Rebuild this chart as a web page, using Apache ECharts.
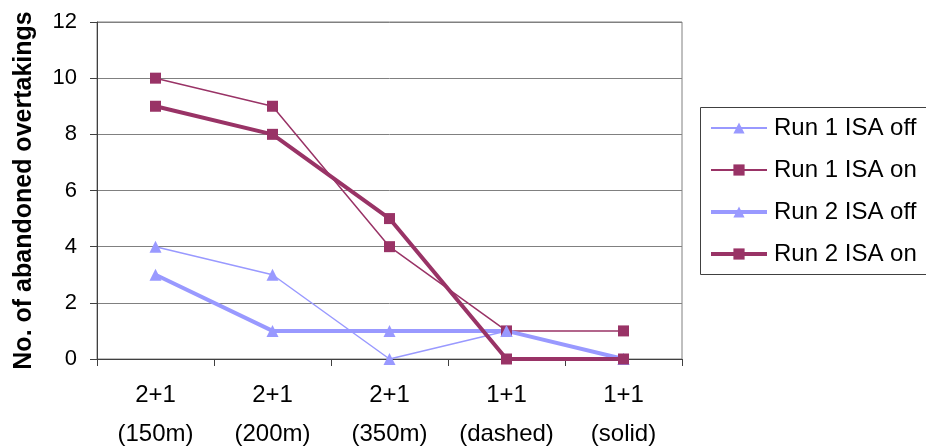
<!DOCTYPE html>
<html>
<head>
<meta charset="utf-8">
<script src="https://cdn.jsdelivr.net/npm/echarts@6/dist/echarts.min.js"></script>
<style>
  html, body { margin: 0; padding: 0; background: #fff; }
  #chart { width: 926px; height: 448px; }
</style>
</head>
<body>
<div id="chart"></div>
<script>
// Road layout categories
const categories = ['2+1\n(150m)', '2+1\n(200m)', '2+1\n(350m)', '1+1\n(dashed)', '1+1\n(solid)'];

// Abandoned overtakings per run and ISA state
const run1IsaOff = [4, 3, 0, 1, 0];
const run1IsaOn = [10, 9, 4, 1, 1];
const run2IsaOff = [3, 1, 1, 1, 0];
const run2IsaOn = [9, 8, 5, 0, 0];

const yTicks = { min: 0, max: 12, step: 2 };

const BLUE = '#9999FF';
const PLUM = '#993366';
const FONT = 'Liberation Sans, Arial, sans-serif';
const THIN = 1.5;
const THICK = 4;

function lineSeries(name, data, color, width, symbol, size) {
  return {
    name: name,
    type: 'line',
    data: data,
    symbol: symbol,
    symbolSize: size,
    showSymbol: true,
    lineStyle: { color: color, width: width },
    itemStyle: { color: color },
    emphasis: { disabled: true },
    animation: false
  };
}

function legendItem(name, width) {
  return { name: name, lineStyle: { width: width } };
}

const chart = echarts.init(document.getElementById('chart'), null, { renderer: 'canvas' });

chart.setOption({
  backgroundColor: '#ffffff',
  animation: false,
  textStyle: { fontFamily: FONT },
  grid: {
    left: 97, top: 22, width: 585, height: 337,
    containLabel: false,
    outerBoundsMode: 'none',
    show: true, borderColor: '#808080', borderWidth: 1
  },
  xAxis: {
    type: 'category',
    data: categories,
    boundaryGap: true,
    axisLine: { lineStyle: { color: '#404040', width: 1 } },
    axisTick: { show: true, interval: 0, length: 7, lineStyle: { color: '#404040' } },
    axisLabel: {
      interval: 0, color: '#000', fontSize: 24, lineHeight: 39, margin: 17,
      fontFamily: FONT
    }
  },
  yAxis: {
    type: 'value',
    min: yTicks.min, max: yTicks.max, interval: yTicks.step,
    name: 'No. of abandoned overtakings',
    nameLocation: 'middle',
    nameGap: 60,
    nameRotate: 90,
    nameTextStyle: {
      color: '#000', fontSize: 25, fontWeight: 'bold', fontFamily: FONT
    },
    axisLine: { show: true, lineStyle: { color: '#404040', width: 1 } },
    axisTick: { show: true, length: 7, lineStyle: { color: '#404040' } },
    axisLabel: { color: '#000', fontSize: 22, margin: 20, fontFamily: FONT },
    splitLine: { show: true, lineStyle: { color: '#808080', width: 1 } }
  },
  legend: {
    orient: 'vertical',
    left: 709,
    top: 116,
    itemWidth: 56,
    itemHeight: 14,
    itemGap: 18,
    padding: 0,
    textStyle: { color: '#000', fontSize: 24, fontFamily: FONT, padding: [0, 0, 0, 2] },
    data: [
      legendItem('Run 1 ISA off', 2),
      legendItem('Run 1 ISA on', 2),
      legendItem('Run 2 ISA off', THICK),
      legendItem('Run 2 ISA on', THICK)
    ]
  },
  graphic: [{
    type: 'rect',
    shape: { x: 700.5, y: 107.5, width: 260, height: 167 },
    style: { fill: 'none', stroke: '#404040', lineWidth: 1 },
    z: 0
  }],
  series: [
    lineSeries('Run 1 ISA off', run1IsaOff, BLUE, THIN, 'triangle', 12),
    lineSeries('Run 1 ISA on', run1IsaOn, PLUM, THIN, 'rect', 11),
    lineSeries('Run 2 ISA off', run2IsaOff, BLUE, THICK, 'triangle', 12),
    lineSeries('Run 2 ISA on', run2IsaOn, PLUM, THICK, 'rect', 11)
  ]
});
</script>
</body>
</html>
